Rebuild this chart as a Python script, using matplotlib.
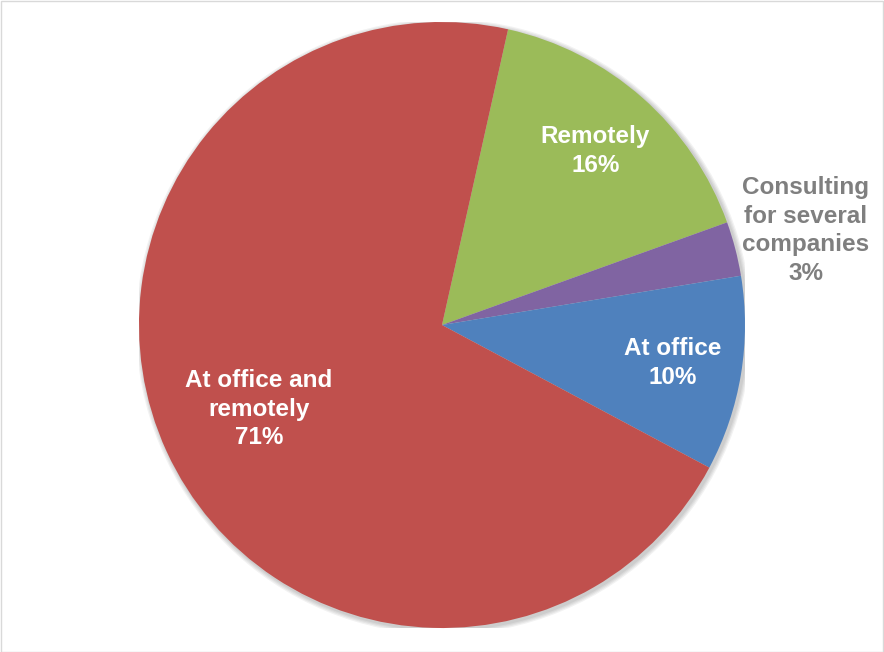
import numpy as np
import matplotlib
matplotlib.use("Agg")
import matplotlib.pyplot as plt
from matplotlib.patches import Circle, Rectangle

labels = ["Remotely", "Consulting\nfor several\ncompanies", "At office", "At office and\nremotely"]
values = [16.0, 2.9, 10.4, 70.7]
colors = ["#9BBB59", "#8064A2", "#4F81BD", "#C0504D"]
text_colors = ["white", "#7F7F7F", "white", "white"]
label_dist = [0.765, 1.24, 0.77, 0.665]

W, H = 884, 652
fig = plt.figure(figsize=(W / 100, H / 100), dpi=100)
fig.patch.set_facecolor("white")
fig.patches.append(Rectangle((0.5 / W, 0.5 / H), 1 - 1.5 / W, 1 - 1.5 / H,
                             transform=fig.transFigure, fill=False,
                             edgecolor="#D9D9D9", linewidth=1.0))

cx, cy, R = 442, 325, 303
ax = fig.add_axes([(cx - R) / W, (H - cy - R) / H, 2 * R / W, 2 * R / H])
ax.axis("off")

# soft shadow
for i, a in enumerate([0.05, 0.05, 0.05, 0.05]):
    ax.add_patch(Circle((0.006, -0.006), 1.0 + 0.004 * (i + 1), color="black",
                        alpha=a, lw=0, zorder=0))

wedges, _ = ax.pie(values, colors=colors, startangle=77.4, counterclock=False,
                   radius=1.0, center=(0, 0), frame=False,
                   wedgeprops=dict(linewidth=0))
for w in wedges:
    w.set_zorder(2)

ax.set_xlim(-1, 1)
ax.set_ylim(-1, 1)
ax.set_aspect("equal")

total = sum(values)
for w, lab, v, tc, d in zip(wedges, labels, values, text_colors, label_dist):
    mid = np.deg2rad((w.theta1 + w.theta2) / 2)
    x, y = d * np.cos(mid), d * np.sin(mid)
    ax.text(x, y, f"{lab}\n{round(v / total * 100):.0f}%", ha="center", va="center",
            color=tc, fontsize=17.5, fontweight="bold", family="Liberation Sans",
            linespacing=1.3, zorder=5, clip_on=False)

fig.savefig("out.png", dpi=100, facecolor="white")
